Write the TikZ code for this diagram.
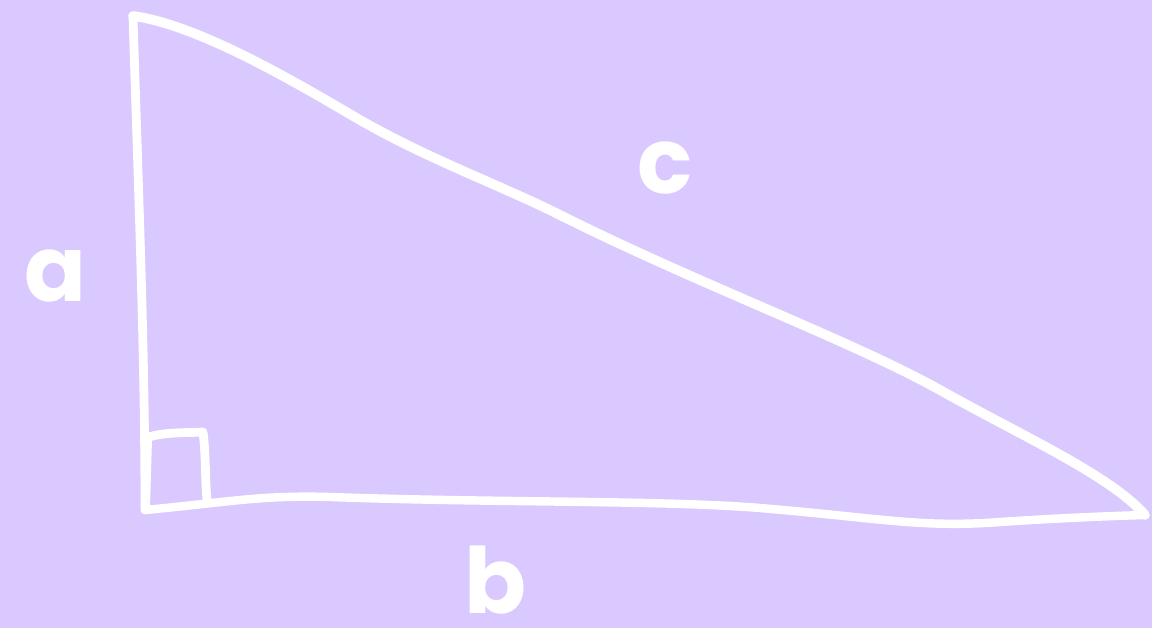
\documentclass[tikz,border=0pt]{standalone}
\usepackage{fontspec}
\setmainfont{Poppins}
\usepackage{xcolor}
\usetikzlibrary{positioning, calc}
\definecolor{lilac}{HTML}{DAC9FE}
\tikzstyle{side} = [draw=white, line cap=round, line join=round]
\tikzstyle{lbl} = [text=white, font=\fontsize{52}{56}\selectfont\bfseries, inner sep=0pt]

\begin{document}
\begin{tikzpicture}[x=0.02cm, y=-0.02cm]
\fill[lilac] (0,0) rectangle (1152,628);
\useasboundingbox (0,0) rectangle (1152,628);
% corners
\coordinate (A) at (133,16);
\coordinate (B) at (145,510);
\coordinate (C) at (1145,515);
% sides
\draw[side, line width=5pt] (A) .. controls (138,180) and (145,350) .. (B);
\draw[side, line width=4.8pt] (B) .. controls (230,502) and (260,495) .. (330,497)
    .. controls (500,503) and (660,500) .. (760,508)
    .. controls (880,518) and (920,528) .. (1000,522)
    .. controls (1060,518) and (1110,516) .. (C);
\draw[side, line width=5.5pt] (A) .. controls (200,25) and (300,85) .. (360,120)
    .. controls (430,160) and (500,185) .. (560,215)
    .. controls (700,285) and (850,340) .. (940,390)
    .. controls (1020,435) and (1110,475) .. (C);
% right angle mark
\coordinate (m1) at (149,437);
\coordinate (m2) at (203,432);
\coordinate (m3) at (207,500);
\draw[side, line width=5pt] (m1) .. controls (165,432) and (185,433) .. (m2)
    .. controls (206,455) and (205,480) .. (m3);
\draw[side, line width=3.5pt] (m1) -- (147,505);
% labels
\node (la) [lbl] at (56,276) {a};
\node (lc) [lbl] at (665,168) {c};
\node (lb) [lbl] at (496,580) {b};
\end{tikzpicture}
\end{document}
